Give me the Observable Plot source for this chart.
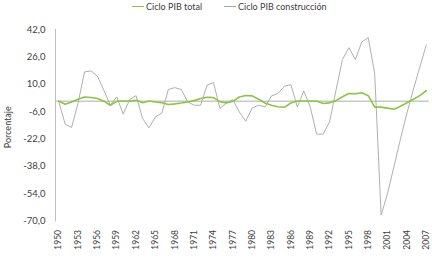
<!DOCTYPE html>
<html>
<head>
<meta charset="utf-8">
<script src="https://cdn.jsdelivr.net/npm/d3@7"></script>
<script src="https://cdn.jsdelivr.net/npm/@observablehq/plot@0.6"></script>
<style>
  html, body { margin: 0; padding: 0; background: #fff; }
  body { width: 432px; height: 261px; overflow: hidden; font-family: Lato, "Open Sans", sans-serif; position: relative; }
  #legend { height: 16px; position: relative; font-size: 9px; color: #404040; }
  .item { position: absolute; top: 1px; display: flex; align-items: center; white-space: nowrap; }
  .swatch { display: inline-block; width: 12px; margin-right: 2px; }
  #chart svg { display: block; }
</style>
</head>
<body>
<div id="legend"></div>
<div id="chart"></div>
<script>
const years = [1950,1951,1952,1953,1954,1955,1956,1957,1958,1959,
  1960,1961,1962,1963,1964,1965,1966,1967,1968,1969,
  1970,1971,1972,1973,1974,1975,1976,1977,1978,1979,
  1980,1981,1982,1983,1984,1985,1986,1987,1988,1989,
  1990,1991,1992,1993,1994,1995,1996,1997,1998,1999,
  2000,2001,2002,2003,2004,2005,2006,2007];

const cicloTotal = [0.2,-1.7,-0.4,1.2,2.5,2.2,1.6,0.1,-2.3,0,
  0.2,0.2,0.6,-0.8,0.2,-0.4,-0.8,-1.9,-1.5,-1,
  -0.4,0.4,1.6,2.4,2.2,-0.2,-0.9,0,2.5,3.4,
  3.2,1.2,-1,-2.3,-3.2,-3.5,-1,0.2,0.2,0.2,
  0.2,-1.3,-0.9,0.4,2.7,4.6,4.4,5.0,3.3,-3.4,
  -3.4,-4,-4.6,-2.9,-0.8,1.2,3.3,6.2];

const cicloConstruccion = [0,-13.4,-15.3,-1,17.2,17.8,14.7,6.5,-2.3,2.6,
  -7.5,1.0,3.3,-10,-15.5,-9.1,-6.8,6.9,8.0,6.9,
  -0.3,-2.3,-2.3,9.4,11,-4.2,-0.9,1.0,-6.2,-11.6,
  -3.9,-2.3,-3.3,3.2,4.6,8.8,9.8,-3.3,6.1,-3.3,
  -19.2,-19.2,-12,6.5,24.4,31.4,24.4,34.7,37.3,16.2,
  -66.5,-53.8,-38,-22,-7,7,20,33];

const seriesNames = ["Ciclo PIB total", "Ciclo PIB construcción"];
const seriesColors = ["#8cc63f", "#a6a6a6"];
const yTicks = [-70,-54,-38,-22,-6,10,26,42];
const xTicks = [1950,1953,1956,1959,1962,1965,1968,1971,1974,1977,1980,1983,1986,1989,1992,1995,1998,2001,2004,2007];
const yLabel = "Porcentaje";

const totalData = years.map((y, i) => ({year: y, value: cicloTotal[i]}));
const consData = years.map((y, i) => ({year: y, value: cicloConstruccion[i]}));

// legend
const legend = document.getElementById("legend");
const legendPos = [132, 224];
seriesNames.forEach((name, i) => {
  const it = document.createElement("div");
  it.className = "item";
  it.style.left = legendPos[i] + "px";
  const sw = document.createElement("span");
  sw.className = "swatch";
  sw.style.borderTop = (i === 0 ? "1.5px" : "1px") + " solid " + seriesColors[i];
  it.appendChild(sw);
  const t = document.createElement("span");
  t.textContent = name;
  it.appendChild(t);
  legend.appendChild(it);
});

const fmt = d => d3.format(".1f")(d).replace(".", ",").replace("−", "-");

const chart = Plot.plot({
  width: 432,
  height: 245,
  marginTop: 13,
  marginBottom: 40.5,
  marginLeft: 55,
  marginRight: 3,
  style: {fontFamily: "Lato, 'Open Sans', sans-serif", color: "#404040", background: "#fff"},
  x: {domain: [1949.5, 2007.5], axis: null},
  y: {domain: [-70, 42], axis: null},
  marks: [
    Plot.ruleY([0], {stroke: "#c8c8c8", strokeWidth: 1.6}),
    Plot.frame({anchor: "left", stroke: "#bfbfbf", strokeWidth: 1}),
    Plot.axisY(yTicks, {tickSize: 0, tickPadding: 10, tickFormat: fmt, fontSize: 9.5, fill: "#404040", label: null}),
    Plot.axisX(xTicks, {tickSize: 0, tickPadding: 9, tickRotate: -90, tickFormat: d => String(d), fontSize: 8.5, fill: "#404040", label: null}),
    Plot.line(consData, {x: "year", y: "value", stroke: seriesColors[1], strokeWidth: 0.9}),
    Plot.line(totalData, {x: "year", y: "value", stroke: seriesColors[0], strokeWidth: 1.6}),
    Plot.text([yLabel], {frameAnchor: "left", textAnchor: "middle", dx: -47, dy: 2, rotate: -90, fontSize: 9, fill: "#404040"})
  ]
});
document.getElementById("chart").appendChild(chart);
</script>
</body>
</html>
